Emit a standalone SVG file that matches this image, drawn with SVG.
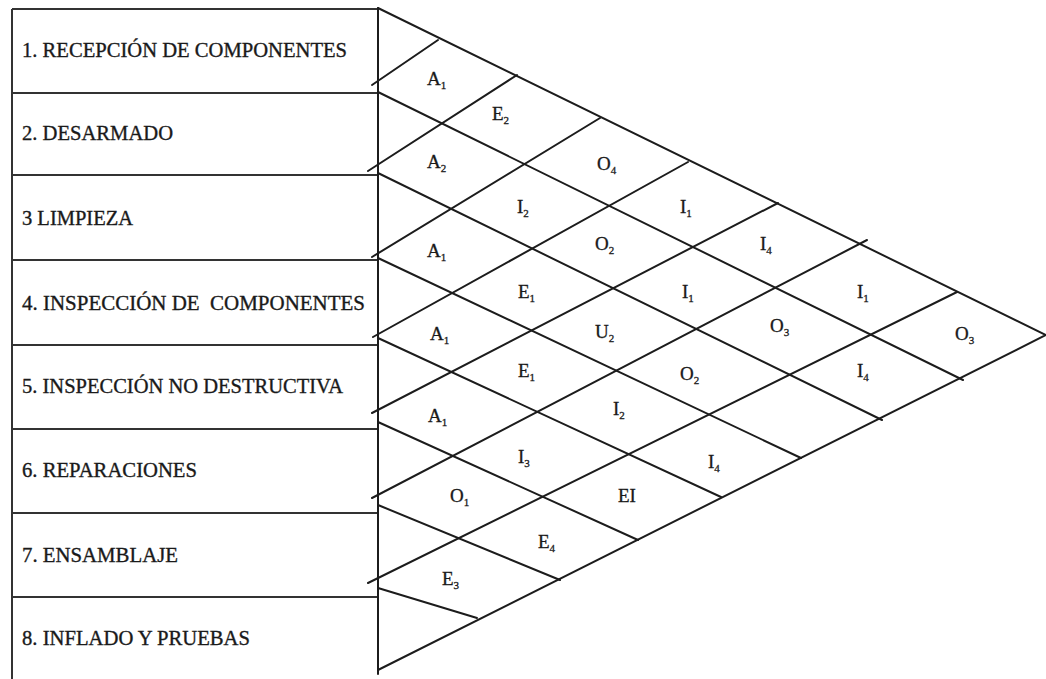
<svg xmlns="http://www.w3.org/2000/svg" width="1046" height="679" viewBox="0 0 1046 679">
<style>
.ln{stroke:#1c1c1c;stroke-width:2;fill:none;stroke-linecap:round}
.bx{stroke:#333;stroke-width:2;fill:none}
.lbl{font-family:"Liberation Serif","Times New Roman",serif;font-size:21px;fill:#1a1a1a;stroke:#1a1a1a;stroke-width:0.35}
.cell{font-family:"Liberation Serif","Times New Roman",serif;font-size:19px;fill:#1a1a1a;stroke:#1a1a1a;stroke-width:0.3}
.sub{font-size:11px}
</style>
<rect width="1046" height="679" fill="#fff"/>
<g id="activities">
<g id="n1"><path class="bx" d="M12 9H378M12 9V93"/><text class="lbl" x="22" y="57" textLength="325" lengthAdjust="spacingAndGlyphs">1. RECEPCIÓN DE COMPONENTES</text></g>
<g id="n2"><path class="bx" d="M12 93H378M12 93V175"/><text class="lbl" x="22" y="140" textLength="151" lengthAdjust="spacingAndGlyphs">2. DESARMADO</text></g>
<g id="n3"><path class="bx" d="M12 175H378M12 175V260"/><text class="lbl" x="22" y="225" textLength="111" lengthAdjust="spacingAndGlyphs">3 LIMPIEZA</text></g>
<g id="n4"><path class="bx" d="M12 260H378M12 260V345"/><text class="lbl" x="22" y="310" textLength="343" lengthAdjust="spacingAndGlyphs">4. INSPECCIÓN DE&#160; COMPONENTES</text></g>
<g id="n5"><path class="bx" d="M12 345H378M12 345V429"/><text class="lbl" x="22" y="393" textLength="321" lengthAdjust="spacingAndGlyphs">5. INSPECCIÓN NO DESTRUCTIVA</text></g>
<g id="n6"><path class="bx" d="M12 429H378M12 429V513"/><text class="lbl" x="22" y="477" textLength="175" lengthAdjust="spacingAndGlyphs">6. REPARACIONES</text></g>
<g id="n7"><path class="bx" d="M12 513H378M12 513V597"/><text class="lbl" x="22" y="562" textLength="156" lengthAdjust="spacingAndGlyphs">7. ENSAMBLAJE</text></g>
<g id="n8"><path class="bx" d="M12 597H378M12 597V679"/><text class="lbl" x="22" y="645" textLength="228" lengthAdjust="spacingAndGlyphs">8. INFLADO Y PRUEBAS</text></g>
</g>
<g id="connectors">
<path class="ln" d="M378 8V674"/>
<path class="ln" d="M378 8L1046 335L378 670"/>
<path class="ln" d="M378 92L963 380"/>
<path class="ln" d="M378 173L882 420"/>
<path class="ln" d="M378 258L801 458"/>
<path class="ln" d="M378 338L721 497"/>
<path class="ln" d="M378 422L638 540"/>
<path class="ln" d="M378 505L560 580"/>
<path class="ln" d="M378 588L477 618"/>
<path class="ln" d="M372 85L438 40"/>
<path class="ln" d="M368 171L517 75"/>
<path class="ln" d="M372 257L600 118"/>
<path class="ln" d="M373 337L688 162"/>
<path class="ln" d="M372 413L778 203"/>
<path class="ln" d="M372 498L867 240"/>
<path class="ln" d="M368 583L957 292"/>
</g>
<g id="cells">
<text class="cell" x="427" y="85">A<tspan class="sub" dy="4">1</tspan></text>
<text class="cell" x="492" y="120">E<tspan class="sub" dy="4">2</tspan></text>
<text class="cell" x="427" y="168">A<tspan class="sub" dy="4">2</tspan></text>
<text class="cell" x="597" y="170">O<tspan class="sub" dy="4">4</tspan></text>
<text class="cell" x="517" y="213">I<tspan class="sub" dy="4">2</tspan></text>
<text class="cell" x="680" y="213">I<tspan class="sub" dy="4">1</tspan></text>
<text class="cell" x="427" y="257">A<tspan class="sub" dy="4">1</tspan></text>
<text class="cell" x="595" y="250">O<tspan class="sub" dy="4">2</tspan></text>
<text class="cell" x="760" y="250">I<tspan class="sub" dy="4">4</tspan></text>
<text class="cell" x="518" y="298">E<tspan class="sub" dy="4">1</tspan></text>
<text class="cell" x="682" y="298">I<tspan class="sub" dy="4">1</tspan></text>
<text class="cell" x="857" y="298">I<tspan class="sub" dy="4">1</tspan></text>
<text class="cell" x="430" y="340">A<tspan class="sub" dy="4">1</tspan></text>
<text class="cell" x="595" y="338">U<tspan class="sub" dy="4">2</tspan></text>
<text class="cell" x="770" y="332">O<tspan class="sub" dy="4">3</tspan></text>
<text class="cell" x="955" y="340">O<tspan class="sub" dy="4">3</tspan></text>
<text class="cell" x="518" y="377">E<tspan class="sub" dy="4">1</tspan></text>
<text class="cell" x="680" y="380">O<tspan class="sub" dy="4">2</tspan></text>
<text class="cell" x="857" y="377">I<tspan class="sub" dy="4">4</tspan></text>
<text class="cell" x="428" y="422">A<tspan class="sub" dy="4">1</tspan></text>
<text class="cell" x="613" y="415">I<tspan class="sub" dy="4">2</tspan></text>
<text class="cell" x="518" y="463">I<tspan class="sub" dy="4">3</tspan></text>
<text class="cell" x="708" y="468">I<tspan class="sub" dy="4">4</tspan></text>
<text class="cell" x="450" y="502">O<tspan class="sub" dy="4">1</tspan></text>
<text class="cell" x="618" y="502">EI</text>
<text class="cell" x="538" y="548">E<tspan class="sub" dy="4">4</tspan></text>
<text class="cell" x="442" y="585">E<tspan class="sub" dy="4">3</tspan></text>
</g>
</svg>
